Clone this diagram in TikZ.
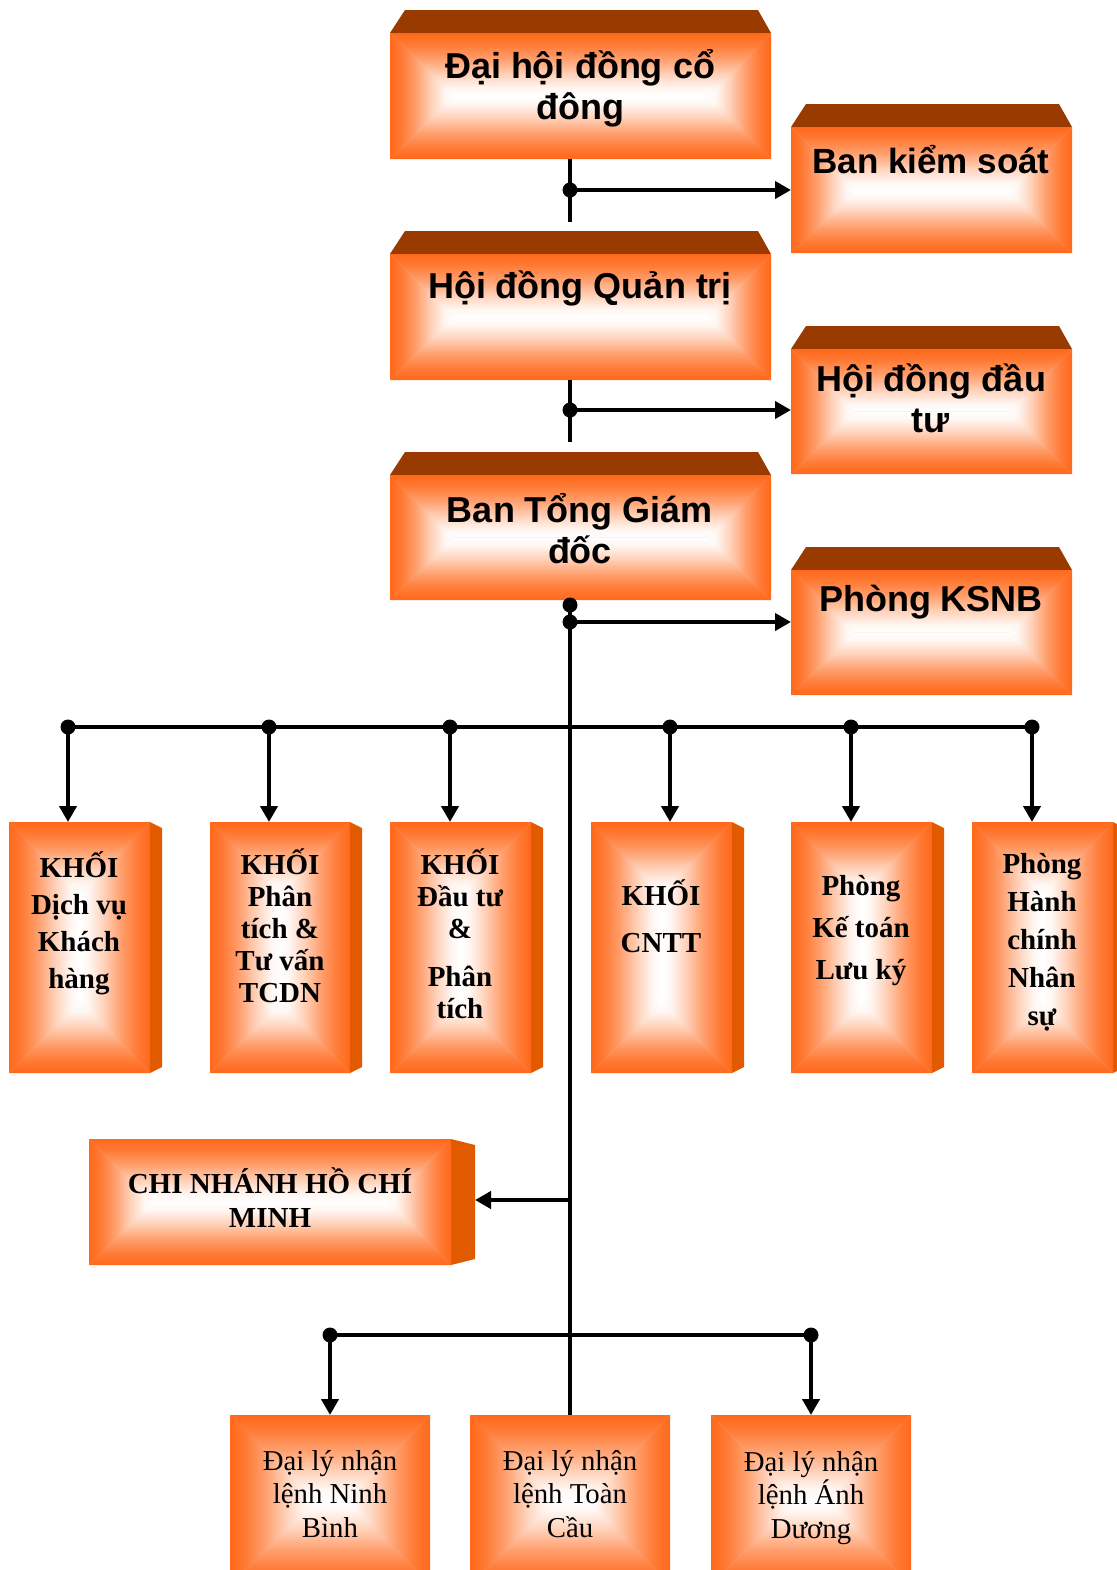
\documentclass[tikz,border=0pt]{standalone}
\usepackage{fontspec}
\setmainfont{Liberation Serif}
\newfontfamily\arialf{Liberation Sans}
\usetikzlibrary{arrows.meta,fit}
\definecolor{boxorange}{RGB}{255,104,26}
\definecolor{boxside}{RGB}{226,90,0}
\definecolor{boxbevel}{RGB}{153,58,0}
\pgfdeclareverticalshading{edgefade}{100bp}{%
  color(0bp)=(white); color(25bp)=(white); color(31bp)=(boxorange!5!white);
  color(42bp)=(boxorange!30!white); color(55bp)=(boxorange!65!white);
  color(66bp)=(boxorange!88!white); color(75bp)=(boxorange); color(100bp)=(boxorange)}
\newcommand\gradbox[5]{%
  \pgfmathsetmacro\gbd{min(#4-#2,#5-#3)/2}%
  \fill[boxorange!40!white] (#2,#3) rectangle (#4,#5);
  \shade[shading=edgefade,shading angle=0] (#2,#3) -- (#4,#3) -- ({#4-\gbd},{#3+\gbd}) -- ({#2+\gbd},{#3+\gbd}) -- cycle;
  \shade[shading=edgefade,shading angle=180] (#2,#5) -- (#4,#5) -- ({#4-\gbd},{#5-\gbd}) -- ({#2+\gbd},{#5-\gbd}) -- cycle;
  \shade[shading=edgefade,shading angle=90] (#2,#3) -- ({#2+\gbd},{#3+\gbd}) -- ({#2+\gbd},{#5-\gbd}) -- (#2,#5) -- cycle;
  \shade[shading=edgefade,shading angle=270] (#4,#3) -- ({#4-\gbd},{#3+\gbd}) -- ({#4-\gbd},{#5-\gbd}) -- (#4,#5) -- cycle;
  \node[fit={(#2,#3) (#4,#5)}, inner sep=0pt, outer sep=0pt] (#1) {};
}
% box with dark top bevel
\newcommand\topbox[5]{%
  \fill[boxbevel] (#2,#3) -- ({#2+15},{#3-23}) -- ({#4-13},{#3-23}) -- (#4,#3) -- cycle;
  \gradbox{#1}{#2}{#3}{#4}{#5}%
}
% box with right side face
\newcommand\sidebox[7]{% name x0 y0 x1 y1 depth slant
  \fill[boxside] (#4,#3) -- ({#4+#6},{#3+#7}) -- ({#4+#6},{#5-#7}) -- (#4,#5) -- cycle;
  \gradbox{#1}{#2}{#3}{#4}{#5}%
}
\tikzset{
  conn/.style={line width=2pt},
  arr/.style={line width=2pt,-{Triangle[length=8pt,width=8.5pt]}},
  jdot/.style={circle,fill=black,inner sep=0pt,minimum size=7.5pt},
  ttop/.style={font=\fontsize{18}{20.5}\selectfont\arialf\bfseries,align=center,inner sep=0pt},
  tkhoi/.style={font=\fontsize{14.5}{#1}\selectfont\bfseries,align=center,inner sep=0pt},
  tbot/.style={font=\fontsize{14.4}{16.8}\selectfont,align=center,inner sep=0pt},
}
\begin{document}
\begin{tikzpicture}[x=0.5pt,y=-0.5pt]
\useasboundingbox (0,0) rectangle (1117,1570);
% ---------- top column ----------
\topbox{dh}{390}{33}{771}{159}{}
\topbox{bks}{791}{127}{1072}{253}{}
\topbox{hdqt}{390}{254}{771}{380}{}
\topbox{hddt}{791}{349}{1072}{474}{}
\topbox{tgd}{390}{475}{771}{600}{}
\topbox{ksnb}{791}{570}{1072}{695}{}
\node[ttop] (tdh) at (580,88) {Đại hội đồng cổ\\đông};
\node[ttop,font=\fontsize{17.5}{20.5}\selectfont\arialf\bfseries] (tbks) at (931,160) {Ban kiểm soát};
\node[ttop] (thdqt) at (580,288) {Hội đồng Quản trị};
\node[ttop] (thddt) at (931,398) {Hội đồng đầu\\tư};
\node[ttop] (ttgd) at (580,529) {Ban Tổng Giám\\đốc};
\node[ttop] (tksnb) at (931,602) {Phòng KSNB};
% ---------- department boxes ----------
\sidebox{k1}{9}{822}{150}{1073}{12}{6}
\sidebox{k2}{210}{822}{350}{1073}{12}{6}
\sidebox{k3}{390}{822}{531}{1073}{12}{6}
\sidebox{k4}{591}{822}{732}{1073}{12}{6}
\sidebox{k5}{791}{822}{932}{1073}{12}{6}
\sidebox{k6}{972}{822}{1113}{1073}{12}{6}
\node[tkhoi=18.5pt] (tk1) at (79,923) {KHỐI\\Dịch vụ\\Khách\\hàng};
\node[tkhoi=16pt] (tk2) at (280,926) {KHỐI\\Phân\\tích \&\\Tư vấn\\TCDN};
\node[tkhoi=16pt] (tk3) at (460,934) {KHỐI\\Đầu tư\\\&\\[8pt]Phân\\tích};
\node[tkhoi=23.5pt] (tk4) at (661,916) {KHỐI\\CNTT};
\node[tkhoi=21pt] (tk5) at (861,931) {Phòng\\Kế toán\\Lưu ký};
\node[tkhoi=19pt] (tk6) at (1042,942) {Phòng\\Hành\\chính\\Nhân\\sự};
% ---------- branch ----------
\sidebox{chi}{89}{1139}{451}{1265}{24}{6}
\node[tkhoi=17pt] (tchi) at (270,1198) {CHI NHÁNH HỒ CHÍ\\MINH};
% ---------- agents ----------
\gradbox{a1}{230}{1415}{430}{1585}{}
\gradbox{a2}{470}{1415}{670}{1585}{}
\gradbox{a3}{711}{1415}{911}{1585}{}
\node[tbot] (ta1) at (330,1494) {Đại lý nhận\\lệnh Ninh\\Bình};
\node[tbot] (ta2) at (570,1494) {Đại lý nhận\\lệnh Toàn\\Cầu};
\node[tbot] (ta3) at (811,1498) {Đại lý nhận\\lệnh Ánh\\Dương};
% ---------- junctions ----------
\coordinate (e1) at (570,222);
\coordinate (e2) at (570,442);
\node[jdot] (j1) at (570,190) {};
\node[jdot] (j2) at (570,410) {};
\node[jdot] (j3) at (570,605) {};
\node[jdot] (j4) at (570,622) {};
\coordinate (hl) at (68,727);
\coordinate (hr) at (1032,727);
\node[jdot] (d1) at (68,727) {};
\node[jdot] (d2) at (269,727) {};
\node[jdot] (d3) at (450,727) {};
\node[jdot] (d4) at (670,727) {};
\node[jdot] (d5) at (851,727) {};
\node[jdot] (d6) at (1032,727) {};
\coordinate (jc) at (570,1200);
\node[jdot] (b1) at (330,1335) {};
\node[jdot] (b2) at (811,1335) {};
% ---------- connectors ----------
\draw[conn] (dh.south -| j1) -- (e1);
\draw[arr] (j1.center) -- (bks.west |- j1);
\draw[conn] (hdqt.south -| j2) -- (e2);
\draw[arr] (j2.center) -- (hddt.west |- j2);
\draw[arr] (j4.center) -- (ksnb.west |- j4);
\draw[conn] (tgd.south -| j3) -- (a2.north);
\draw[conn] (hl) -- (hr);
\foreach \i in {1,...,6}{\draw[arr] (d\i.center) -- (k\i.north -| d\i);}
\draw[arr] (jc) -- ([xshift=12pt]chi.east |- jc);
\draw[conn] (b1.center) -- (b2.center);
\draw[arr] (b1.center) -- (a1.north -| b1);
\draw[arr] (b2.center) -- (a3.north -| b2);
\end{tikzpicture}
\end{document}
